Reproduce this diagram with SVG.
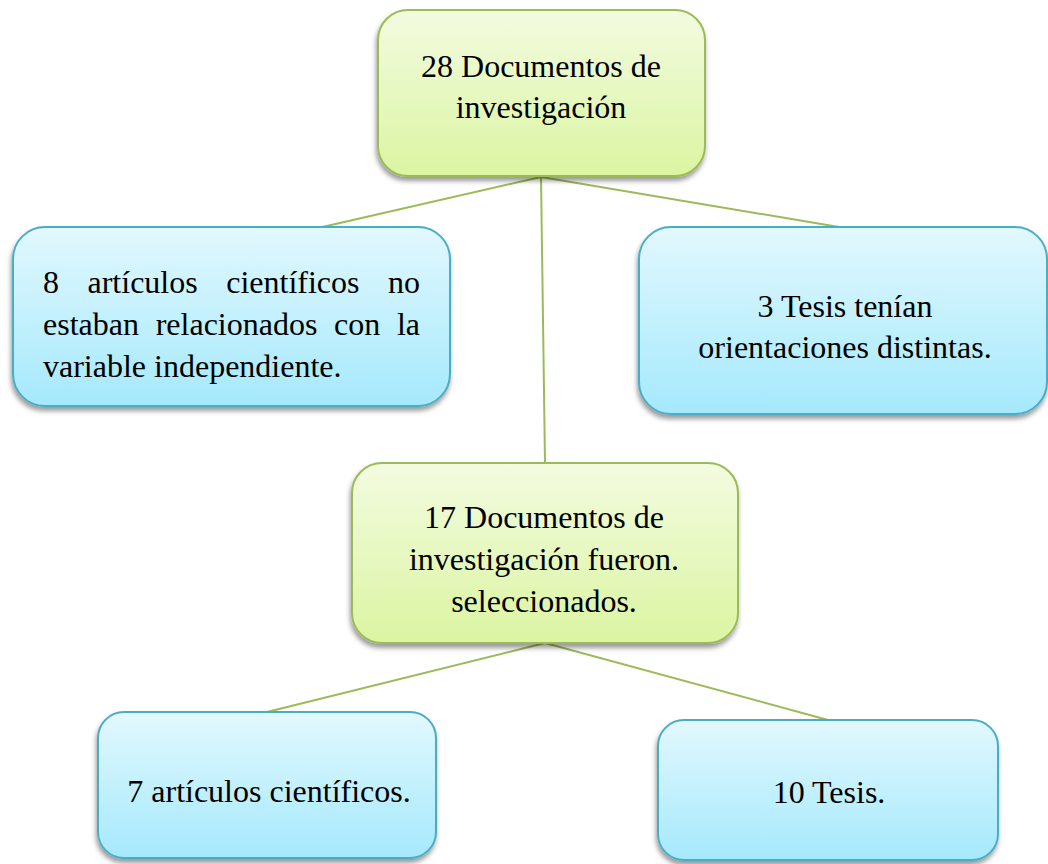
<svg xmlns="http://www.w3.org/2000/svg" width="1048" height="864" viewBox="0 0 1048 864">
<defs>
<linearGradient id="gGreen" x1="0" y1="0" x2="0" y2="1">
<stop offset="0" stop-color="#F3FBE0"/>
<stop offset="1" stop-color="#DBF5A2"/>
</linearGradient>
<linearGradient id="gBlue" x1="0" y1="0" x2="0" y2="1">
<stop offset="0" stop-color="#E2F8FE"/>
<stop offset="1" stop-color="#A5E9FC"/>
</linearGradient>
<filter id="shadow" x="-10%" y="-10%" width="120%" height="130%">
<feDropShadow dx="-1" dy="4" stdDeviation="2.5" flood-color="#000" flood-opacity="0.4"/>
</filter>
</defs>
<style>
.green{fill:url(#gGreen);stroke:#9BBB59;stroke-width:2;filter:url(#shadow)}
.blue{fill:url(#gBlue);stroke:#4BACC6;stroke-width:2;filter:url(#shadow)}
text{font-family:'Liberation Serif',serif;font-size:32px;fill:#000}
.c{text-anchor:middle}
.e{text-anchor:end}
.conn line{stroke:#9BBB59;stroke-width:2}
</style>
<rect width="1048" height="864" fill="#fff"/>
<g class="conn" id="connectors">
<line x1="541" y1="177" x2="318" y2="228"/>
<line x1="541" y1="177" x2="845" y2="228"/>
<line x1="541" y1="177" x2="545" y2="463"/>
<line x1="545" y1="643" x2="267" y2="712"/>
<line x1="545" y1="643" x2="828" y2="720"/>
</g>
<g id="n1" font-family="Liberation Serif, serif">
<rect class="green" x="378" y="10" width="327" height="166" rx="30"/>
<text class="c" x="541" y="77">28 Documentos de</text>
<text class="c" x="541" y="118">investigación</text>
</g>
<g id="n2" font-family="Liberation Serif, serif">
<rect class="blue" x="13" y="227" width="437" height="179" rx="32"/>
<text y="293"><tspan x="43">8</tspan><tspan x="87.5">artículos</tspan><tspan x="226.2">científicos</tspan></text>
<text class="e" x="420" y="293">no</text>
<text y="335"><tspan x="43">estaban</tspan><tspan x="155.7">relacionados</tspan><tspan x="334">con</tspan></text>
<text class="e" x="420" y="335">la</text>
<text x="43" y="377">variable independiente.</text>
</g>
<g id="n3" font-family="Liberation Serif, serif">
<rect class="blue" x="639" y="227" width="408" height="187" rx="32"/>
<text class="c" x="845" y="317">3 Tesis tenían</text>
<text class="c" x="845" y="358">orientaciones distintas.</text>
</g>
<g id="n4" font-family="Liberation Serif, serif">
<rect class="green" x="352" y="463" width="386" height="180" rx="30"/>
<text class="c" x="544" y="528">17 Documentos de</text>
<text class="c" x="544" y="570">investigación fueron.</text>
<text class="c" x="544" y="612">seleccionados.</text>
</g>
<g id="n5" font-family="Liberation Serif, serif">
<rect class="blue" x="98" y="712" width="338" height="146" rx="26"/>
<text class="c" x="269" y="802">7 artículos científicos.</text>
</g>
<g id="n6" font-family="Liberation Serif, serif">
<rect class="blue" x="658" y="720" width="340" height="140" rx="26"/>
<text class="c" x="829" y="803">10 Tesis.</text>
</g>
</svg>
